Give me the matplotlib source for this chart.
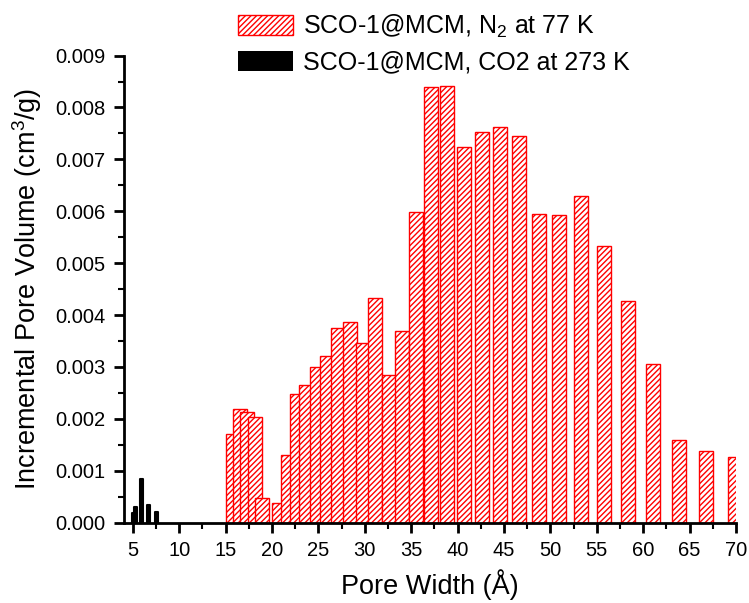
import numpy as np
import matplotlib
matplotlib.use('Agg')
import matplotlib.pyplot as plt
from matplotlib.ticker import MultipleLocator

plt.rcParams['font.family'] = ['Liberation Sans', 'DejaVu Sans']
plt.rcParams['mathtext.fontset'] = 'custom'
plt.rcParams['mathtext.rm'] = 'Liberation Sans'
plt.rcParams['hatch.linewidth'] = 1.0

# N2 at 77 K (pore width in angstrom, incremental pore volume cm3/g)
n2_width = [15.81, 16.59, 17.32, 18.15, 18.93, 20.77, 21.70, 22.70, 23.71, 24.86,
            25.97, 27.16, 28.45, 29.78, 31.11, 32.62, 34.02, 35.56, 37.18, 38.90,
            40.72, 42.59, 44.55, 46.59, 48.73, 50.97, 53.33, 55.77, 58.32, 61.01,
            63.81, 66.76, 69.83]
n2_volume = [0.00170, 0.00219, 0.00214, 0.00203, 0.00048, 0.00037, 0.00130, 0.00247,
             0.00266, 0.00300, 0.00322, 0.00376, 0.00387, 0.00347, 0.00432, 0.00284,
             0.00370, 0.00599, 0.00839, 0.00842, 0.00723, 0.00753, 0.00762, 0.00746,
             0.00595, 0.00593, 0.00629, 0.00534, 0.00428, 0.00306, 0.00159, 0.00139,
             0.00127]

# CO2 at 273 K
co2_width = [5.02, 5.25, 5.97, 6.68, 7.52]
co2_volume = [0.00019, 0.00031, 0.00084, 0.00035, 0.00020]

fig = plt.figure(figsize=(7.49, 6.03), dpi=100)
ax = fig.add_axes([0.1649, 0.1332, 0.9827 - 0.1649, 0.9078 - 0.1332])

for w, v in zip(n2_width, n2_volume):
    ax.bar(w, v, width=1.5, facecolor='white', edgecolor='red',
           hatch='//////', linewidth=1.0)
ax.bar(co2_width, co2_volume, width=0.3, color='black', edgecolor='black',
       linewidth=1.5, joinstyle='round')

# legend handles
h1 = ax.bar([0], [0], width=0, facecolor='white', edgecolor='red', hatch='//////',
            linewidth=1.0, label='SCO-1@MCM, N$_2$ at 77 K')
h2 = ax.bar([0], [0], width=0, color='black', label='SCO-1@MCM, CO2 at 273 K')
leg = fig.legend(handles=[h1, h2], loc='upper left', bbox_to_anchor=(0.305, 0.995),
                 frameon=False, fontsize=18, handlelength=2.2, handleheight=0.85,
                 handletextpad=0.4, labelspacing=0.4, borderaxespad=0)

ax.set_xlim(4, 70)
ax.set_ylim(0, 0.009)
ax.xaxis.set_major_locator(MultipleLocator(5))
ax.xaxis.set_minor_locator(MultipleLocator(2.5))
ax.yaxis.set_major_locator(MultipleLocator(0.001))
ax.yaxis.set_minor_locator(MultipleLocator(0.0005))
ax.yaxis.set_major_formatter(matplotlib.ticker.FormatStrFormatter('%.3f'))

ax.spines['top'].set_visible(False)
ax.spines['right'].set_visible(False)
for s in ['left', 'bottom']:
    ax.spines[s].set_linewidth(2)
ax.tick_params(which='major', direction='out', length=7, width=2, labelsize=14.5, pad=6)
ax.tick_params(which='minor', direction='out', length=4, width=1.5)

ax.set_xlabel('Pore Width (Å)', fontsize=19.5, labelpad=7)
ax.set_ylabel('Incremental Pore Volume (cm$^3$/g)', fontsize=19.5, labelpad=8)

fig.savefig('out.png', dpi=100)
